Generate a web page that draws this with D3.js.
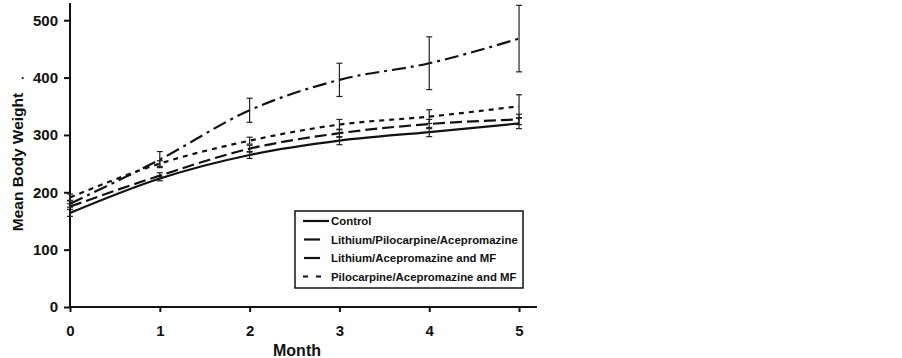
<!DOCTYPE html>
<html><head><meta charset="utf-8">
<script src="https://cdn.jsdelivr.net/npm/d3@7"></script>
<style>body{margin:0;background:#fff}svg{display:block}text{font-family:Arial,"Liberation Sans",sans-serif;font-weight:bold;fill:#111}</style>
</head><body><svg id="c" width="902" height="358"></svg>
<script>
const months = [0,1,2,3,4,5];
const seriesNames = ["Control","Lithium/Pilocarpine/Acepromazine","Lithium/Acepromazine and MF","Pilocarpine/Acepromazine and MF"];
const controlVals = [164,224,265,290,305,320];
const lpaVals = [175,229,276,303,319,327];
const lamfVals = [180,257,343,396,425,468];
const pamfVals = [191,250,290,318,332,350];
const controlErr = [6,4,6,7,8,9];
const lpaErr = [5,5,6,7,8,9];
const lamfErr = [6,14,21,29,46,58];
const pamfErr = [6,5,6,9,12,20];
const yTicks = [0,100,200,300,400,500];
const xTicks = [0,1,2,3,4,5];
const dashes = [null,"12,5","14,5,3,5","5,5"];
const legendDashes = [null,null,null,"5,8"];

const svg = d3.select("#c");
const x = d3.scaleLinear().domain([0,5.2]).range([70,537]);
const y = d3.scaleLinear().domain([0,530]).range([307,3]);

const data = [controlVals,lpaVals,lamfVals,pamfVals];
const errs = [controlErr,lpaErr,lamfErr,pamfErr];

// axes
const gy = svg.append("g").attr("transform","translate(70,0)")
  .call(d3.axisLeft(y).tickValues(yTicks).tickSize(6).tickPadding(6).tickFormat(d3.format("d")));
gy.select(".domain").attr("d","M0,"+y(530)+"V"+y(0)).attr("stroke","#111").attr("stroke-width",2);
gy.selectAll(".tick line").attr("stroke","#111").attr("stroke-width",2);
gy.selectAll(".tick text").style("font-size","15px").style("font-weight","bold");
const gx = svg.append("g").attr("transform","translate(0,307)")
  .call(d3.axisBottom(x).tickValues(xTicks).tickSize(5).tickPadding(13).tickFormat(d3.format("d")));
gx.select(".domain").attr("d","M"+x(0)+",0H"+x(5.2)).attr("stroke","#111").attr("stroke-width",2);
gx.selectAll(".tick line").attr("stroke","#111").attr("stroke-width",2);
gx.selectAll(".tick text").style("font-size","15px").style("font-weight","bold");

// lines
const line = d3.line().x((d,i)=>x(months[i])).y(d=>y(d)).curve(d3.curveMonotoneX);
data.forEach((vals,k)=>{
  svg.append("path").datum(vals).attr("d",line).attr("fill","none")
    .attr("stroke","#111").attr("stroke-width",2.2)
    .attr("stroke-dasharray",dashes[k]);
  vals.forEach((v,i)=>{
    const e = errs[k][i], cx = x(months[i]);
    const g = svg.append("g").attr("stroke","#222").attr("stroke-width",1.2);
    g.append("line").attr("x1",cx).attr("x2",cx).attr("y1",y(v-e)).attr("y2",y(v+e));
    g.append("line").attr("x1",cx-3).attr("x2",cx+3).attr("y1",y(v-e)).attr("y2",y(v-e));
    g.append("line").attr("x1",cx-3).attr("x2",cx+3).attr("y1",y(v+e)).attr("y2",y(v+e));
  });
});

// legend
const lg = svg.append("g");
lg.append("rect").attr("x",295).attr("y",211).attr("width",228).attr("height",77)
  .attr("fill","#fff").attr("stroke","#111").attr("stroke-width",1.5);
const legX1 = [303,304,304,303];
const legX2 = [329,320,320,321];
seriesNames.forEach((n,k)=>{
  const yy = 221 + k*18.5;
  lg.append("line").attr("x1",legX1[k]).attr("x2",legX2[k]).attr("y1",yy).attr("y2",yy)
    .attr("stroke","#111").attr("stroke-width",2.2).attr("stroke-dasharray",legendDashes[k]);
  lg.append("text").attr("x",331).attr("y",yy+4).style("font-size","11.4px").text(n);
});

// axis titles
svg.append("text").attr("transform","translate(23,162) rotate(-90)").attr("text-anchor","middle")
  .style("font-size","15.5px").text("Mean Body Weight");
svg.append("text").attr("x",297).attr("y",356).attr("text-anchor","middle")
  .style("font-size","16px").text("Month");
svg.append("text").attr("x",23).attr("y",82).attr("text-anchor","middle").style("font-size","12px").text("·");
</script></body></html>
